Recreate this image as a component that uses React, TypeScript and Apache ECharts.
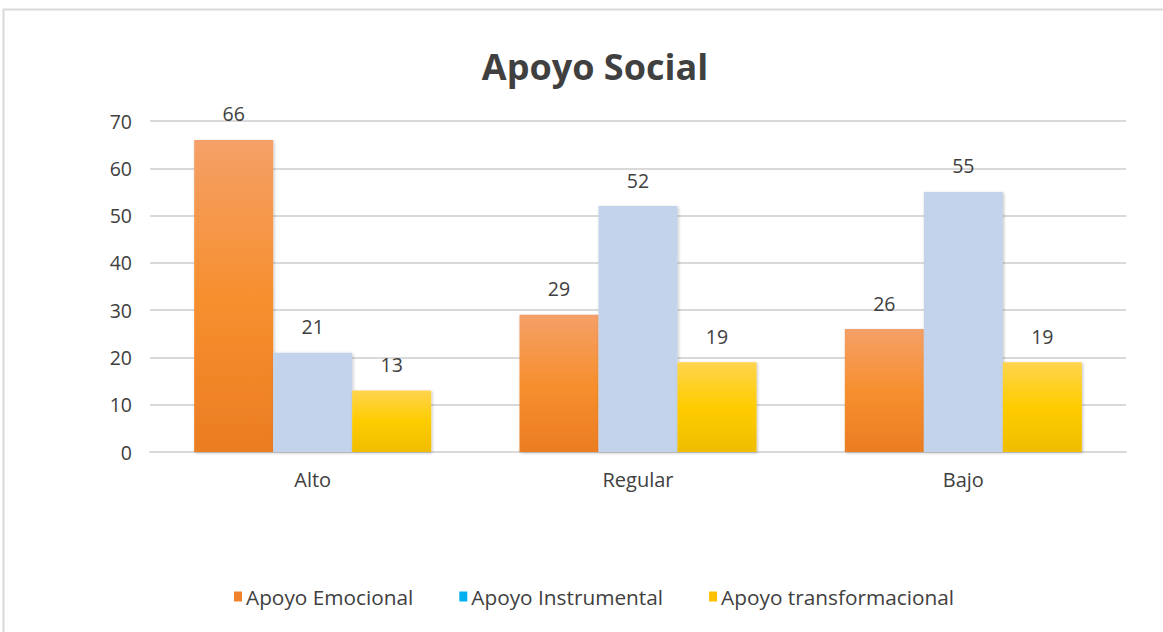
import React, { useEffect, useRef } from "react";
import * as echarts from "echarts";

const categories = ["Alto", "Regular", "Bajo"];
const emocional = [66, 29, 26];
const instrumental = [21, 52, 55];
const transformacional = [13, 19, 19];
const seriesNames = ["Apoyo Emocional", "Apoyo Instrumental", "Apoyo transformacional"];
const yTicks = { min: 0, max: 70, interval: 10 };

const FONT = "'Open Sans', sans-serif";

function grad(top: string, mid: string, bottom: string) {
  return new echarts.graphic.LinearGradient(0, 0, 0, 1, [
    { offset: 0, color: top },
    { offset: 0.5, color: mid },
    { offset: 1, color: bottom },
  ]);
}

export default function App() {
  const ref = useRef<HTMLDivElement>(null);
  useEffect(() => {
    document.body.style.margin = "0";
    const chart = echarts.init(ref.current!, undefined, { renderer: "svg" });
    const label = {
      show: true,
      position: "top" as const,
      distance: 16,
      color: "#404040",
      fontSize: 19.5,
      fontFamily: FONT,
    };
    const shadow = { shadowBlur: 3, shadowColor: "rgba(0,0,0,0.25)", shadowOffsetX: 1, shadowOffsetY: 1 };
    chart.setOption({
      animation: false,
      backgroundColor: "#ffffff",
      title: {
        text: "Apoyo Social",
        left: 590,
        top: 43,
        textAlign: "center",
        textStyle: { fontSize: 36, fontWeight: "bold", color: "#404040", fontFamily: FONT },
      },
      graphic: [
        {
          type: "rect",
          shape: { x: 3.5, y: 9.5, width: 1200, height: 700 },
          style: { fill: "none", stroke: "#D9D9D9", lineWidth: 2 },
          silent: true,
        },
      ],
      legend: {
        bottom: 20,
        left: 229,
        itemWidth: 8,
        itemHeight: 10,
        itemGap: 46,
        icon: "rect",
        textStyle: { fontSize: 20.8, color: "#404040", fontFamily: FONT, padding: [0, 0, 0, -1] },
        data: [
          { name: seriesNames[0], itemStyle: { color: "#F0822C" } },
          { name: seriesNames[1], itemStyle: { color: "#00B0F0" } },
          { name: seriesNames[2], itemStyle: { color: "#FFC000" } },
        ],
      },
      grid: { left: 150, right: 37, top: 121, bottom: 180 },
      xAxis: {
        type: "category",
        data: categories,
        axisTick: { show: false },
        axisLine: { lineStyle: { color: "#D9D9D9", width: 2 } },
        axisLabel: { fontSize: 20, color: "#404040", fontFamily: FONT, margin: 17 },
      },
      yAxis: {
        type: "value",
        min: yTicks.min,
        max: yTicks.max,
        interval: yTicks.interval,
        axisLine: { show: false },
        axisTick: { show: false },
        splitLine: { lineStyle: { color: "#D9D9D9", width: 2 } },
        axisLabel: { fontSize: 19.5, color: "#404040", fontFamily: FONT, margin: 18 },
      },
      series: [
        {
          name: seriesNames[0],
          type: "bar",
          data: emocional,
          barWidth: 79,
          barGap: "0%",
          itemStyle: { color: grad("#F4A068", "#F78F2F", "#EB7D22"), ...shadow },
          label,
        },
        {
          name: seriesNames[1],
          type: "bar",
          data: instrumental,
          barWidth: 79,
          barGap: "0%",
          itemStyle: { color: "#C3D3EB", ...shadow },
          label,
        },
        {
          name: seriesNames[2],
          type: "bar",
          data: transformacional,
          barWidth: 79,
          barGap: "0%",
          itemStyle: { color: grad("#FFD44E", "#FFCC00", "#EFBD00"), ...shadow },
          label,
        },
      ],
    });
    return () => chart.dispose();
  }, []);
  return <div ref={ref} style={{ width: 1163, height: 632 }} />;
}
